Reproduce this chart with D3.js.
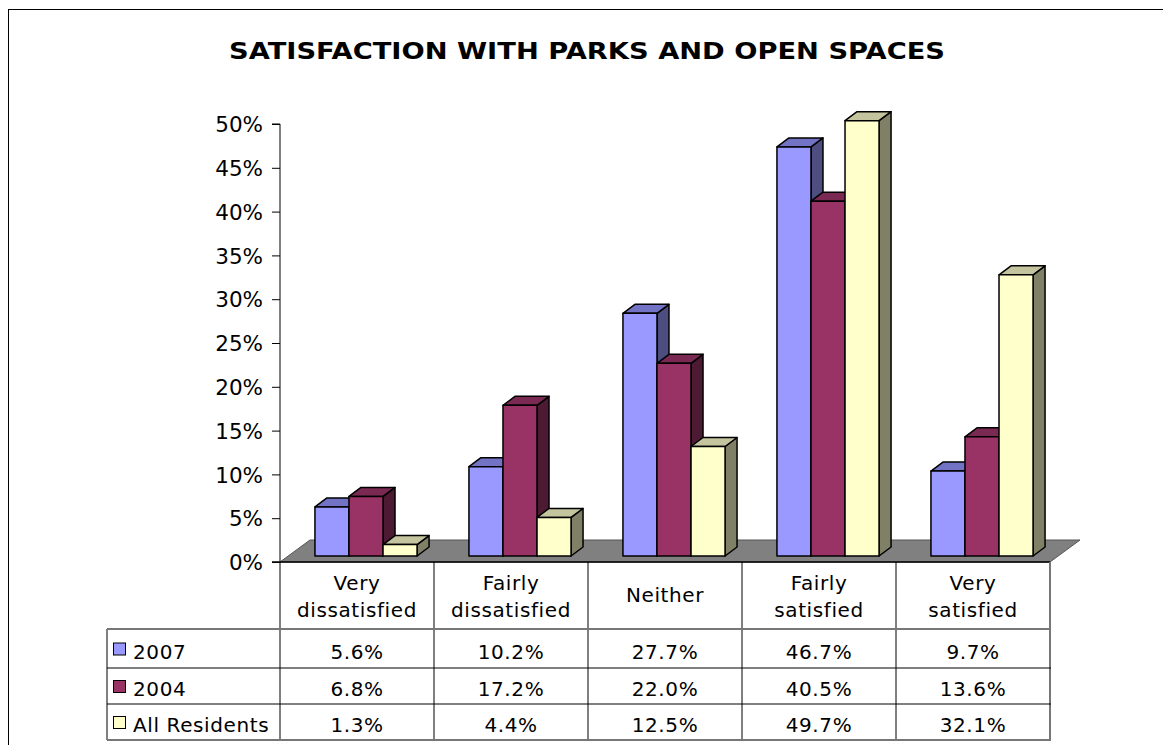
<!DOCTYPE html>
<html>
<head>
<meta charset="utf-8">
<script src="https://cdn.jsdelivr.net/npm/d3@7"></script>
<style>
  body { margin: 0; background: #fff; }
  svg text { font-family: "DejaVu Sans", Verdana, sans-serif; fill: #000; }
</style>
</head>
<body>
<div id="chart"></div>
<script>
// ---------------------------------------------------------------------
// Data

const categories = ['Very dissatisfied', 'Fairly dissatisfied', 'Neither', 'Fairly satisfied', 'Very satisfied'];
const series = ['2007', '2004', 'All Residents'];
const values2007 = [5.6, 10.2, 27.7, 46.7, 9.7];
const values2004 = [6.8, 17.2, 22.0, 40.5, 13.6];
const valuesAll = [1.3, 4.4, 12.5, 49.7, 32.1];
const yTicks = [0, 5, 10, 15, 20, 25, 30, 35, 40, 45, 50];

// ---------------------------------------------------------------------
// Styles

const faceColors = {
  '2007': { front: '#9999FF', top: '#7373C6', side: '#4D4D80' },
  '2004': { front: '#993366', top: '#7A2952', side: '#4D1A33' },
  'All Residents': { front: '#FFFFCC', top: '#C4C49F', side: '#808066' }
};

const width = 1163;
const height = 745;
const plotLeft = 280;
const plotRight = 1050;
const depth = { dx: 30, dy: -22 };     // floor depth
const barShift = { dx: 9, dy: -6 };    // bars sit a bit behind the front edge
const barDepth = { dx: 12, dy: -9 };   // bar top/side depth
const rowLines = [562, 629, 668, 704, 740];

const svg = d3.select('#chart').append('svg')
  .attr('width', width)
  .attr('height', height);

// outer frame
svg.append('rect')
  .attr('x', 8.5).attr('y', 9.5)
  .attr('width', 1300).attr('height', 900)
  .attr('fill', 'none').attr('stroke', '#000').attr('stroke-width', 1);

// title
svg.append('text')
  .attr('x', 587).attr('y', 59)
  .attr('text-anchor', 'middle')
  .style('font-weight', 'bold')
  .style('font-size', '23.5px')
  .attr('textLength', 716)
  .attr('lengthAdjust', 'spacingAndGlyphs')
  .text('SATISFACTION WITH PARKS AND OPEN SPACES');

// scales
const x0 = d3.scaleBand().domain(categories).range([plotLeft, plotRight]);
const groupWidth = x0.bandwidth() * 0.663;
const x1 = d3.scaleBand().domain(series).range([0, groupWidth]);
const y = d3.scaleLinear().domain([0, 50]).range([562, 124]);

// floor
const y0 = y(0);
svg.append('path')
  .attr('d', `M${plotLeft},${y0} L${plotLeft + depth.dx},${y0 + depth.dy} L${plotRight + depth.dx},${y0 + depth.dy} L${plotRight},${y0} Z`)
  .attr('fill', '#808080')
  .attr('stroke', '#555')
  .attr('stroke-width', 1);

// y axis
const yAxis = d3.axisLeft(y)
  .tickValues(yTicks)
  .tickSize(8)
  .tickPadding(9)
  .tickFormat(d => d + '%');
const axisG = svg.append('g')
  .attr('transform', `translate(${plotLeft},0)`)
  .call(yAxis);
axisG.select('.domain').attr('stroke', '#000').attr('d', `M-8,${y(50)}H0V${y(0)}`);
axisG.selectAll('.tick line').attr('stroke', '#000');
axisG.selectAll('.tick text')
  .style('font-family', '"DejaVu Sans", Verdana, sans-serif')
  .style('font-size', '21.5px')
  .attr('dy', '0.36em');

// bars
const seriesValues = { '2007': values2007, '2004': values2004, 'All Residents': valuesAll };
const bars = [];
categories.forEach((cat, ci) => {
  series.forEach(s => {
    bars.push({ cat: cat, series: s, value: seriesValues[s][ci] });
  });
});

const barG = svg.append('g');
bars.forEach(d => {
  const xl = x0(d.cat) + (x0.bandwidth() - groupWidth) / 2 + x1(d.series) + barShift.dx;
  const xr = xl + x1.bandwidth();
  const yb = y(0) + barShift.dy;
  const yt = y(d.value) + barShift.dy;
  const c = faceColors[d.series];
  const g = barG.append('g')
    .attr('stroke', '#000')
    .attr('stroke-width', 1.5)
    .attr('stroke-linejoin', 'round');
  // side face
  g.append('path')
    .attr('d', `M${xr},${yt} L${xr + barDepth.dx},${yt + barDepth.dy} L${xr + barDepth.dx},${yb + barDepth.dy} L${xr},${yb} Z`)
    .attr('fill', c.side);
  // top face
  g.append('path')
    .attr('d', `M${xl},${yt} L${xl + barDepth.dx},${yt + barDepth.dy} L${xr + barDepth.dx},${yt + barDepth.dy} L${xr},${yt} Z`)
    .attr('fill', c.top);
  // front face
  g.append('rect')
    .attr('x', xl).attr('y', yt)
    .attr('width', x1.bandwidth()).attr('height', yb - yt)
    .attr('fill', c.front);
});

// axis line along the floor front edge
svg.append('line')
  .attr('x1', plotLeft - 8).attr('x2', plotRight)
  .attr('y1', y0).attr('y2', y0)
  .attr('stroke', '#000').attr('stroke-width', 1.5);

// ---------------------------------------------------------------------
// Data table

const tableLeft = 107;
const table = svg.append('g')
  .style('letter-spacing', '0.6px');

// vertical lines
const colEdges = categories.map(c => x0(c));
colEdges.forEach(xc => {
  table.append('line')
    .attr('x1', xc).attr('x2', xc)
    .attr('y1', rowLines[0]).attr('y2', rowLines[4])
    .attr('stroke', '#000').attr('stroke-width', 1);
});
table.append('line')
  .attr('x1', plotRight).attr('x2', plotRight)
  .attr('y1', rowLines[0]).attr('y2', rowLines[4])
  .attr('stroke', '#777').attr('stroke-width', 2);
table.append('line')
  .attr('x1', tableLeft).attr('x2', tableLeft)
  .attr('y1', rowLines[1]).attr('y2', rowLines[4])
  .attr('stroke', '#000').attr('stroke-width', 1);

// horizontal lines
[1, 2, 3, 4].forEach(i => {
  const grey = (i === 1 || i === 4);
  table.append('line')
    .attr('x1', tableLeft).attr('x2', plotRight + 1)
    .attr('y1', rowLines[i]).attr('y2', rowLines[i])
    .attr('stroke', grey ? '#777' : '#000')
    .attr('stroke-width', grey ? 2 : 1);
});

// category headers
categories.forEach(cat => {
  const words = cat.split(' ');
  const cx = x0(cat) + x0.bandwidth() / 2;
  const t = table.append('text')
    .attr('text-anchor', 'middle')
    .style('font-size', '20px');
  if (words.length === 1) {
    t.attr('x', cx).attr('y', 602).text(cat);
  } else {
    words.forEach((w, i) => {
      t.append('tspan').attr('x', cx).attr('y', 590 + i * 27).text(w);
    });
  }
});

// series rows
series.forEach((s, si) => {
  const top = rowLines[si + 1];
  const bottom = rowLines[si + 2];
  const base = (top + bottom) / 2 + 10;
  table.append('rect')
    .attr('x', 113.5).attr('y', (top + bottom) / 2 - 5.5)
    .attr('width', 12).attr('height', 12)
    .attr('fill', faceColors[s].front)
    .attr('stroke', '#000').attr('stroke-width', 1);
  table.append('text')
    .attr('x', 133).attr('y', base)
    .style('font-size', '20px')
    .text(s);
  seriesValues[s].forEach((v, ci) => {
    table.append('text')
      .attr('x', x0(categories[ci]) + x0.bandwidth() / 2)
      .attr('y', base)
      .attr('text-anchor', 'middle')
      .style('font-size', '20px')
      .text(v.toFixed(1) + '%');
  });
});
</script>
</body>
</html>
